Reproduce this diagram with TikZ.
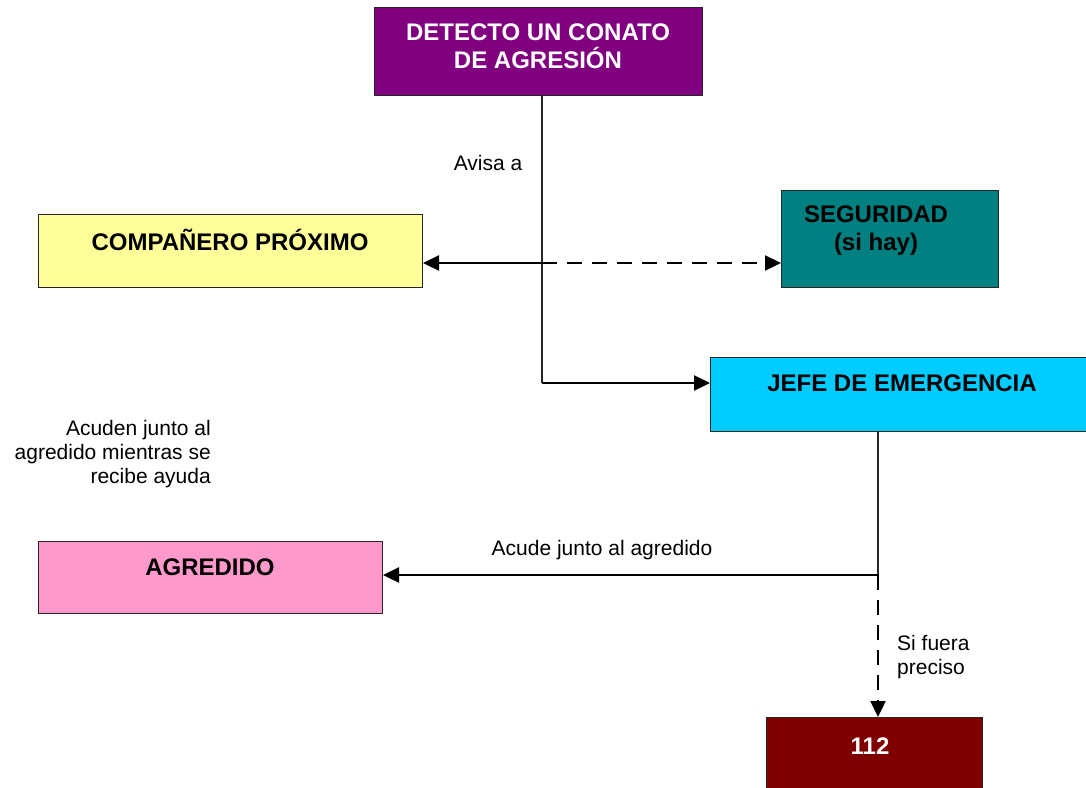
\documentclass[tikz,border=0pt]{standalone}
\usepackage{fontspec}
\setmainfont{Liberation Sans}
\usetikzlibrary{arrows.meta}
\definecolor{cPurple}{HTML}{800080}
\definecolor{cYellow}{HTML}{FFFF99}
\definecolor{cTeal}{HTML}{008080}
\definecolor{cCyan}{HTML}{00CCFF}
\definecolor{cPink}{HTML}{FF99CC}
\definecolor{cMaroon}{HTML}{800000}
\begin{document}
\begin{tikzpicture}[x=1pt,y=-1pt,
  box/.style={draw=black!85, line width=1pt, anchor=north west, inner sep=0pt},
  btext/.style={font=\fontsize{24}{28}\selectfont\bfseries, align=center, inner sep=0pt},
  ltext/.style={font=\fontsize{21}{24}\selectfont, inner sep=0pt},
  thinline/.style={line width=1.2pt, draw=black!85},
  thickline/.style={line width=2.3pt},
  arr/.style={-{Triangle[length=16pt,width=15pt]}},
  dashline/.style={dash pattern=on 15pt off 10pt}
]
\useasboundingbox (0,0) rectangle (1086,787);
% boxes
\node[box, fill=cPurple, minimum width=328pt, minimum height=88pt] (det) at (374,7) {};
\node[box, fill=cYellow, minimum width=384pt, minimum height=73pt] (comp) at (38,214) {};
\node[box, fill=cTeal, minimum width=217pt, minimum height=97pt] (seg) at (781,190) {};
\node[box, fill=cCyan, minimum width=376pt, minimum height=74pt] (jefe) at (710,357) {};
\node[box, fill=cPink, minimum width=344pt, minimum height=72pt] (agr) at (38,541) {};
\node[box, fill=cMaroon, minimum width=216pt, minimum height=80pt] (emer) at (766,717) {};
% box texts
\node[btext, text=white] (tdet) at (538,46) {DETECTO UN CONATO\\DE AGRESIÓN};
\node[btext] (tcomp) at (230,240) {COMPAÑERO PRÓXIMO};
\node[btext] (tseg) at (876,231) {SEGURIDAD\\(si hay)};
\node[btext] (tjefe) at (902,383) {JEFE DE EMERGENCIA};
\node[btext] (tagr) at (210,567) {AGREDIDO};
\node[btext, text=white] (temer) at (870,746) {112};
% junction coordinates
\coordinate (j1) at (542,263);
\coordinate (j2) at (542,383);
\coordinate (j3) at (878,575);
% connectors
\draw[thinline] (det.south -| j1) -- (j2);
\draw[thickline, arr] (j2) -- (jefe.west |- j2);
\draw[thickline, arr] (j1) -- (comp.east |- j1);
\draw[thickline, dashline, arr] (j1) -- (seg.west |- j1);
\draw[thinline] (jefe.south -| j3) -- (j3);
\draw[thickline, arr] (j3) -- (agr.east |- j3);
\draw[thickline, dashline, arr] (j3) -- (emer.north -| j3);
% labels
\node[ltext] (lavisa) at (488,163) {Avisa a};
\node[ltext, align=right, anchor=east] (lacuden) at (211,454) {Acuden junto al\\agredido mientras se\\recibe ayuda};
\node[ltext] (lacude) at (602,550) {Acude junto al agredido};
\node[ltext, align=left, anchor=west] (lsi) at (897,657) {Si fuera\\preciso};
\end{tikzpicture}
\end{document}
